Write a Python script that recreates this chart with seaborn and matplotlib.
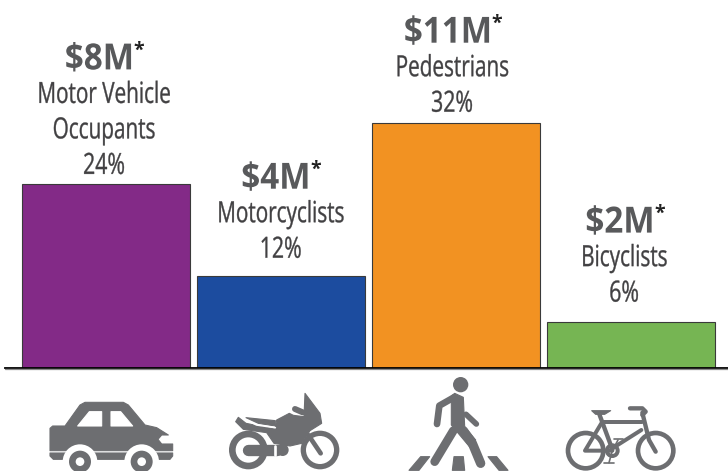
"""Road deaths cost bars with the mode icons underneath."""
import matplotlib
matplotlib.use('Agg')
import matplotlib.patheffects as pe
import matplotlib.pyplot as plt
import pandas as pd
import seaborn as sns
from matplotlib.patches import Circle, Polygon
from matplotlib.text import Annotation
from matplotlib.transforms import Affine2D

categories = ['Motor Vehicle\nOccupants', 'Motorcyclists', 'Pedestrians', 'Bicyclists']
shares = [24, 12, 32, 6]
costs = ['$8M', '$4M', '$11M', '$2M']
colors = ['#832A87', '#1C4C9F', '#F29222', '#76B553']

ICON = '#6D6E71'
PX = 0.72  # points per pixel at dpi 100


class Condense(pe.AbstractPathEffect):
    """Squeeze glyphs sideways about their middle, no condensed face is installed."""

    def __init__(self, factor, weight=0.0):
        super().__init__()
        self.factor = factor
        self.weight = weight

    def draw_path(self, renderer, gc, tpath, affine, rgbFace=None):
        ext = tpath.get_extents()
        mid = (ext.x0 + ext.x1) / 2
        squeeze = Affine2D().translate(-mid, 0).scale(self.factor, 1).translate(mid, 0)
        gc0 = renderer.new_gc()
        gc0.copy_properties(gc)
        gc0.set_linewidth(self.weight)
        gc0.set_foreground(rgbFace)
        renderer.draw_path(gc0, tpath, squeeze + affine, rgbFace)
        gc0.restore()


class NarrowLabel(Annotation):
    """Annotation drawn condensed, reporting the extent it really covers."""

    def __init__(self, text, factor, weight=0.0, **kw):
        super().__init__(text, path_effects=[Condense(factor, weight)], **kw)
        self.factor = factor

    def get_window_extent(self, renderer=None):
        bb = super().get_window_extent(renderer)
        mid = (bb.x0 + bb.x1) / 2
        return bb.translated(-mid, 0).transformed(Affine2D().scale(self.factor, 1)).translated(mid, 0)


sns.set_theme(style='white')
plt.rcParams['font.family'] = ['Open Sans', 'DejaVu Sans']

fig = plt.figure(figsize=(7.28, 4.71), dpi=100)
ax = fig.add_axes([5 / 728, 103.5 / 471, 723 / 728, 367.5 / 471])

df = pd.DataFrame({'mode': categories, 'share': shares})
sns.barplot(data=df, x='mode', y='share', hue='mode', palette=colors, legend=False,
            width=0.96, saturation=1, edgecolor='#3A3A3A', linewidth=0.8, ax=ax)
ax.set_xlim(-0.577, 3.554)
ax.set_ylim(0, 367.5 / 7.65)
ax.set_xlabel('')
ax.set_ylabel('')
ax.set_xticks([])
ax.set_yticks([])
ax.patch.set_alpha(0)
for side in ['top', 'left', 'right']:
    ax.spines[side].set_visible(False)
ax.spines['bottom'].set_linewidth(1.3)
ax.spines['bottom'].set_color('black')

# label stack: gap above the bar and sideways shift differ per bar in the original
gaps = [10, 18, 11, 20]
shifts = [-2, -0.5, -4, -7]
value_shifts = [-6.5, -5, -8, -11]
star_shifts = [33, 35, 40.5, 28.5]
for i, (name, share, cost) in enumerate(zip(categories, shares, costs)):
    y = gaps[i]
    kw = dict(xy=(i, share), xycoords='data', textcoords='offset points', ha='center', va='baseline',
              annotation_clip=False)
    ax.add_artist(NarrowLabel(f'{share}%', 0.73, 0.25, xytext=(shifts[i] * PX, y * PX), fontsize=21,
                              color='#414042', **kw))
    for line in reversed(name.split('\n')):
        y += 35.5
        ax.add_artist(NarrowLabel(line, 0.71, 0.25, xytext=(shifts[i] * PX, y * PX), fontsize=21,
                                  color='#414042', **kw))
    y += 33.5
    ax.add_artist(NarrowLabel(cost, 0.92, xytext=(value_shifts[i] * PX, y * PX), fontsize=26,
                              fontweight='bold', color='#58595B', **kw))
    ax.annotate('*', xytext=(star_shifts[i] * PX, (y + 13.5) * PX), fontsize=14, fontweight='bold',
                color='#222222', **kw)

# icons, in reference pixels (zoomed crop coordinates / 3)
over = fig.add_axes([0, 0, 1, 1])
over.set_xlim(0, 728)
over.set_ylim(471, 0)
over.axis('off')
over.patch.set_alpha(0)
over.plot([5, 728], [369, 369], color='#8A8A8A', lw=0.9)


def poly(pts, ox, fc=ICON):
    over.add_patch(Polygon([(ox + x / 3, 360 + y / 3) for x, y in pts], closed=True, fc=fc, ec=fc,
                           lw=0.8, joinstyle='round'))


def disc(x, y, r, ox, fc=ICON):
    over.add_patch(Circle((ox + x / 3, 360 + y / 3), r / 3, fc=fc, ec='none'))


def stroke(pts, ox, w, fc=ICON):
    over.plot([ox + x / 3 for x, y in pts], [360 + y / 3 for x, y in pts], color=fc, lw=w / 3 * PX,
              solid_capstyle='round', solid_joinstyle='round')


# car
poly([(150, 205), (158, 198), (195, 198), (240, 135), (255, 127), (370, 127), (385, 135), (435, 195),
      (470, 203), (505, 225), (485, 225), (474, 238), (485, 252), (518, 252), (518, 272), (150, 272)], 0)
poly([(150, 279), (518, 279), (518, 288), (510, 298), (160, 298), (150, 288)], 0)
poly([(233, 198), (268, 155), (305, 155), (305, 198)], 0, 'white')
poly([(333, 155), (362, 155), (398, 198), (333, 198)], 0, 'white')
for cx in [240, 425]:
    disc(cx, 305, 52, 0, 'white')
    disc(cx, 305, 33, 0)
    disc(cx, 305, 13, 0, 'white')

# motorcycle
for cx in [745, 960]:
    disc(cx, 270, 58, 0)
disc(745, 270, 38, 0, 'white')
disc(960, 270, 42, 0, 'white')
poly([(830, 180), (868, 160), (880, 166), (912, 170), (915, 100), (960, 160), (965, 190), (930, 212),
      (905, 250), (870, 258), (822, 250), (800, 218), (730, 208), (707, 185), (715, 172), (738, 190),
      (825, 207)], 0)
poly([(738, 173), (826, 182), (826, 198), (775, 190)], 0)
stroke([(738, 180), (770, 195), (826, 203)], 0, 5, 'white')
stroke([(885, 147), (908, 157)], 0, 18)
stroke([(925, 225), (962, 280)], 0, 14)
stroke([(745, 270), (830, 270)], 0, 34)
disc(848, 270, 18, 0)
stroke([(825, 258), (825, 285)], 0, 8, 'white')
disc(745, 270, 11, 0, 'white')

# pedestrian
disc(290, 74, 23, 364)
poly([(262, 108), (272, 100), (298, 112), (302, 200), (335, 240), (318, 262), (262, 195)], 364)
stroke([(270, 112), (226, 137), (219, 192)], 364, 20)
stroke([(306, 163), (337, 192)], 364, 17)
stroke([(268, 212), (212, 305)], 364, 26)
stroke([(298, 212), (325, 250), (350, 310)], 364, 28)
poly([(170, 290), (197, 290), (165, 331), (135, 331)], 364)
poly([(270, 290), (298, 290), (302, 331), (265, 331)], 364)
poly([(372, 290), (398, 290), (432, 331), (405, 331)], 364)

# bicycle
for cx in [665, 875]:
    disc(cx, 272, 60, 364)
    disc(cx, 272, 46, 364, 'white')
stroke([(705, 160), (745, 268)], 364, 13)
stroke([(715, 186), (835, 186)], 364, 12)
stroke([(832, 210), (745, 265)], 364, 12)
stroke([(712, 190), (663, 272), (745, 272)], 364, 12)
stroke([(835, 158), (855, 240), (875, 275)], 364, 13)
stroke([(798, 145), (835, 145), (845, 155), (835, 165)], 364, 13)
poly([(683, 152), (740, 152), (722, 163), (695, 163)], 364)
disc(745, 272, 22, 364)
disc(745, 272, 10, 364, 'white')
stroke([(750, 237), (776, 237)], 364, 5)
stroke([(762, 240), (745, 272), (735, 308)], 364, 5)
stroke([(720, 308), (750, 308)], 364, 5)

fig.savefig('out.png', dpi=100)
